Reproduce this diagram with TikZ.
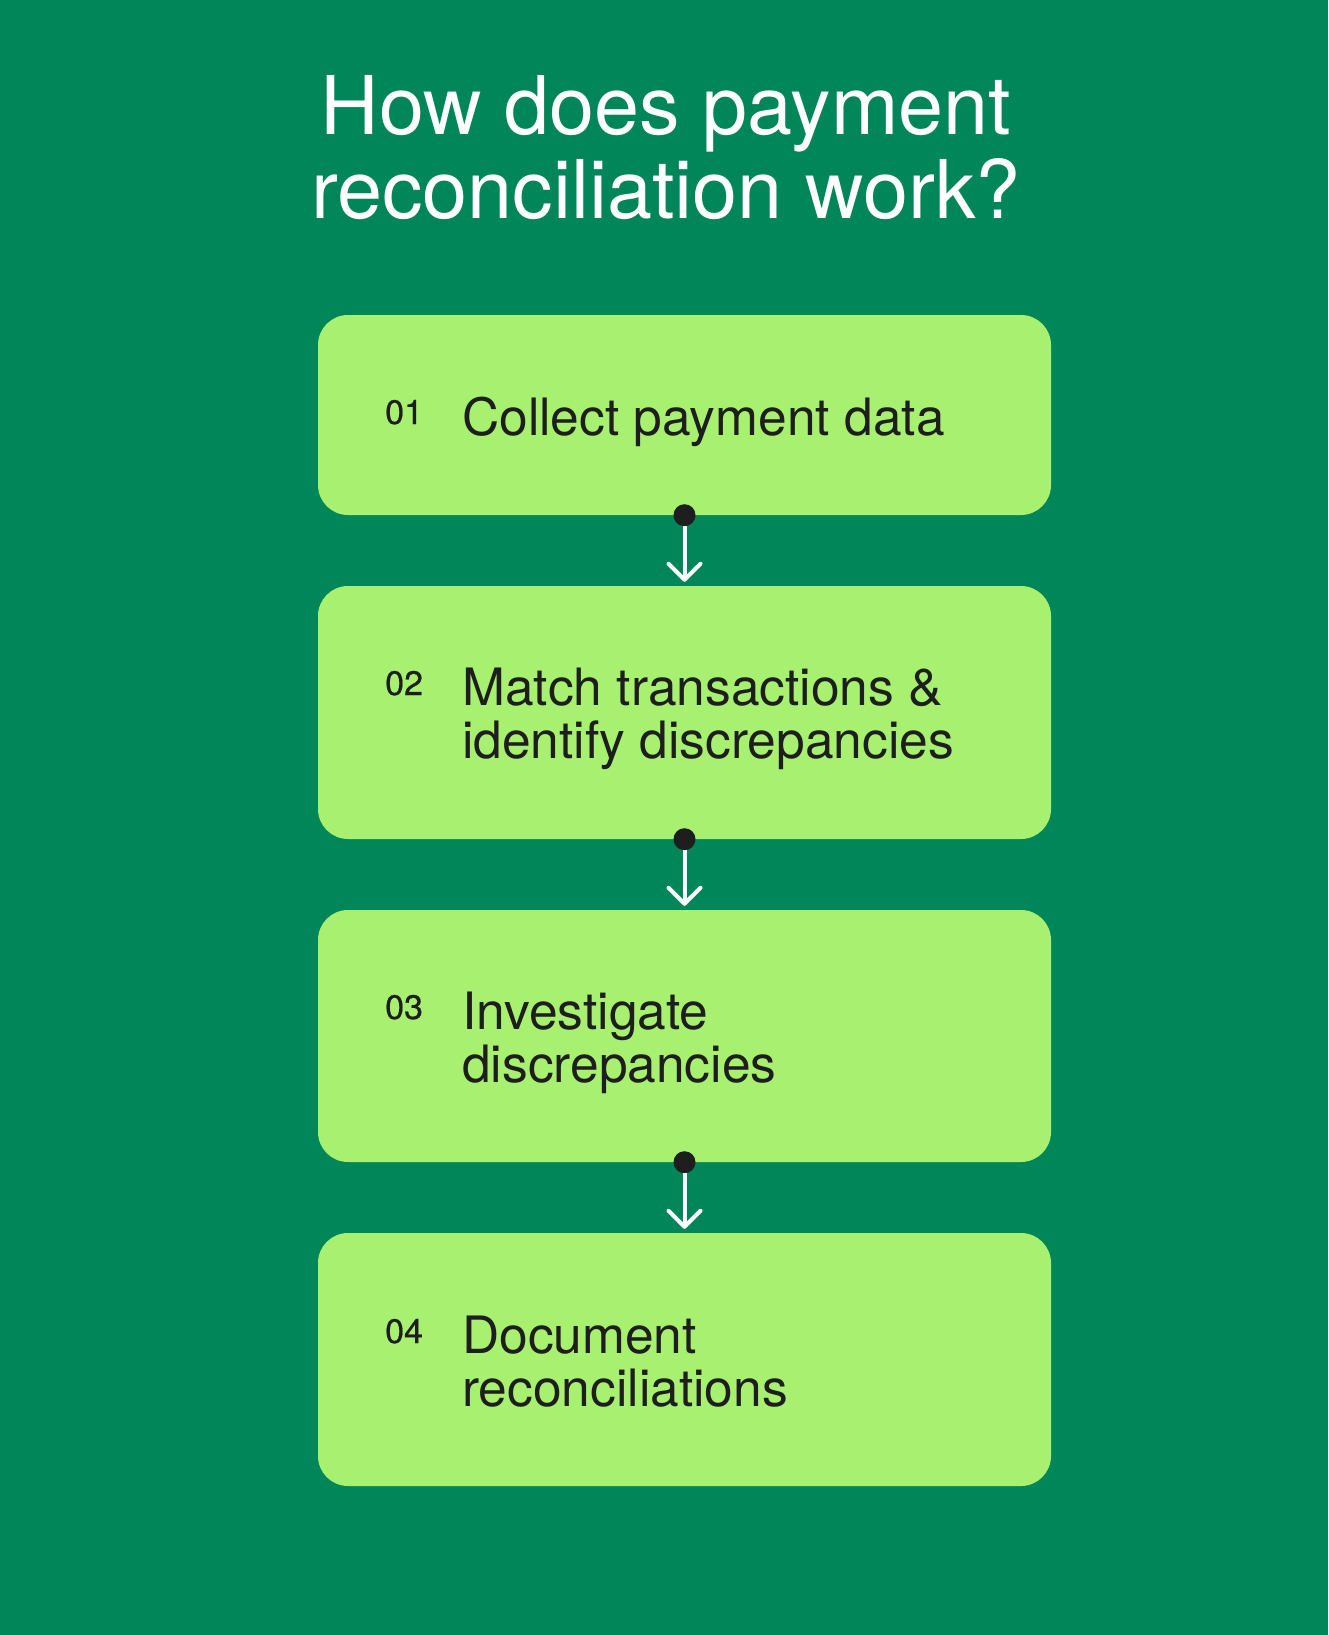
\documentclass[tikz,border=0pt]{standalone}
\usepackage{fontspec}
\setmainfont{TeX Gyre Heros}
\newfontfamily\numfont[FakeBold=0.6]{TeX Gyre Heros}
\usetikzlibrary{calc}
\definecolor{bggreen}{RGB}{0,134,89}
\definecolor{boxgreen}{RGB}{168,240,112}
\definecolor{inkdark}{RGB}{30,30,30}
\begin{document}
\begin{tikzpicture}[x=1pt,y=-1pt,
  stepbox/.style={fill=boxgreen, draw=none, rounded corners=30pt, minimum width=733pt, inner sep=0pt},
  titletext/.style={text=white, inner sep=0pt, anchor=base, font=\fontsize{81}{97}\selectfont},
  bodytext/.style={text=inkdark, inner sep=0pt, anchor=base west, font=\fontsize{51.5}{53}\selectfont},
  numtext/.style={text=inkdark, inner sep=0pt, anchor=base west, font=\numfont\fontsize{34}{40}\selectfont},
  dotmark/.style={circle, fill=inkdark, minimum size=22pt, inner sep=0pt},
  flow/.style={draw=white, line width=4pt},
  chevron/.style={draw=white, line width=4pt, line cap=round, line join=round}]
\fill[bggreen] (0,0) rectangle (1328,1635);
\useasboundingbox (0,0) rectangle (1328,1635);
% title
\node[titletext] (title1) at (666,135) {How does payment};
\node[titletext] (title2) at (666,218) {reconciliation work?};
% boxes
\node[stepbox, minimum height=200pt] (b1) at (684.5,415) {};
\node[stepbox, minimum height=253pt] (b2) at (684.5,712.5) {};
\node[stepbox, minimum height=252pt] (b3) at (684.5,1036) {};
\node[stepbox, minimum height=253pt] (b4) at (684.5,1359.5) {};
% numbers
\node[numtext] (n1) at (385,424) {01};
\node[numtext] (n2) at (385,695) {02};
\node[numtext] (n3) at (385,1019) {03};
\node[numtext] (n4) at (385,1343) {04};
% texts
\node[bodytext] (t1) at (462,435) {Collect payment data};
\node[bodytext] (t2a) at (462,705) {Match transactions \&};
\node[bodytext] (t2b) at (462,758) {identify discrepancies};
\node[bodytext] (t3a) at (462,1029) {Investigate};
\node[bodytext] (t3b) at (462,1082) {discrepancies};
\node[bodytext] (t4a) at (462,1353) {Document};
\node[bodytext] (t4b) at (462,1406) {reconciliations};
% connectors
\coordinate (tip1) at ($(b2.north)+(0,-6)$);
\coordinate (tip2) at ($(b3.north)+(0,-6)$);
\coordinate (tip3) at ($(b4.north)+(0,-6)$);
\foreach \b/\t in {b1/tip1, b2/tip2, b3/tip3}{
  \draw[flow] (\b.south) -- (\t);
  \draw[chevron] ($(\t)+(-16,-16)$) -- (\t) -- ($(\t)+(16,-16)$);
  \node[dotmark] (dot\b) at (\b.south) {};
}
\end{tikzpicture}
\end{document}
